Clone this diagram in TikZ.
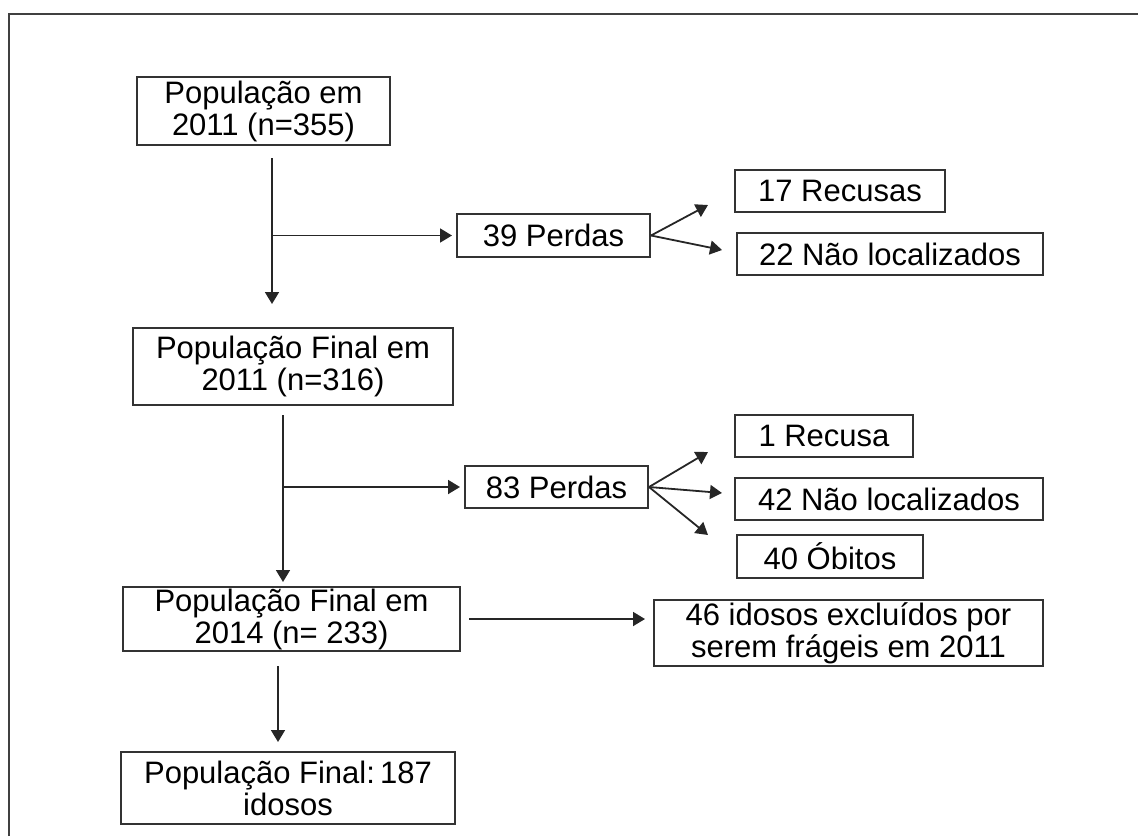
\documentclass[tikz,border=0pt]{standalone}
\usepackage{fontspec}
\setmainfont{Liberation Sans}
\usetikzlibrary{arrows.meta}

\tikzset{
  caixa/.style={draw=black!80, line width=1pt, align=center, inner sep=0pt,
    font=\fontsize{15.5}{16}\selectfont},
  seta/.style={draw=black!85, line width=0.9pt, -{Triangle[length=6pt,width=7pt]}}
}

\begin{document}
\begin{tikzpicture}[x=0.5pt,y=-0.5pt]
\useasboundingbox (0,0) rectangle (1138,836);
\draw[black!75, line width=1.2pt] (9,836) -- (9,14) -- (1138,14);

% primeira etapa
\node[caixa, minimum width=126.5pt, minimum height=34pt] (pop11) at (263.5,111) {População em\\2011 (n=355)};
\node[caixa, minimum width=96.5pt, minimum height=21.5pt] (perd1) at (553.5,235.5) {39 Perdas};
\node[caixa, minimum width=105pt, minimum height=21pt] (recus1) at (840,191) {17 Recusas};
\node[caixa, minimum width=153pt, minimum height=21pt] (nloc1) at (890,254) {22 Não localizados};
\node[caixa, minimum width=160pt, minimum height=38.5pt] (popf11) at (293,366.5) {População Final em\\2011 (n=316)};

\coordinate (t1) at (272,158);
\coordinate (j1) at (272,235.5);
\coordinate (b1) at (272,304);
\coordinate (r1) at (708,205);
\coordinate (n1) at (722,250);
\draw[seta] (t1) -- (b1);
\draw[seta, shorten >=2pt] (j1) -- (perd1.west);
\draw[seta] (perd1.east) -- (r1);
\draw[seta] (perd1.east) -- (n1);

% segunda etapa
\node[caixa, minimum width=91.5pt, minimum height=21pt] (perd2) at (556.5,487) {83 Perdas};
\node[caixa, minimum width=89pt, minimum height=21pt] (recus2) at (824,436) {1 Recusa};
\node[caixa, minimum width=154pt, minimum height=21pt] (nloc2) at (889,499) {42 Não localizados};
\node[caixa, minimum width=93pt, minimum height=21.5pt] (obit) at (830,556.5) {40 Óbitos};
\node[caixa, minimum width=168.5pt, minimum height=32pt] (popf14) at (291.5,619) {População Final em\\2014 (n= 233)};

\coordinate (t2) at (283,415);
\coordinate (j2) at (283,487);
\coordinate (b2) at (283,582);
\coordinate (r2) at (708,452);
\coordinate (n2) at (722,493);
\coordinate (o2) at (708,535);
\draw[seta] (t2) -- (b2);
\draw[seta, shorten >=2pt] (j2) -- (perd2.west);
\draw[seta] (perd2.east) -- (r2);
\draw[seta] (perd2.east) -- (n2);
\draw[seta] (perd2.east) -- (o2);

% etapa final
\node[caixa, minimum width=194.5pt, minimum height=33pt] (excl) at (848.5,633) {46 idosos excluídos por\\serem frágeis em 2011};
\node[caixa, minimum width=167pt, minimum height=36pt] (popfin) at (288,788) {População Final:\,187\\idosos};

\coordinate (t3) at (278,666);
\coordinate (b3) at (278,742);
\draw[seta, shorten <=4pt, shorten >=4pt] (popf14.east) -- (popf14.east -| excl.west);
\draw[seta] (t3) -- (b3);
\end{tikzpicture}
\end{document}
